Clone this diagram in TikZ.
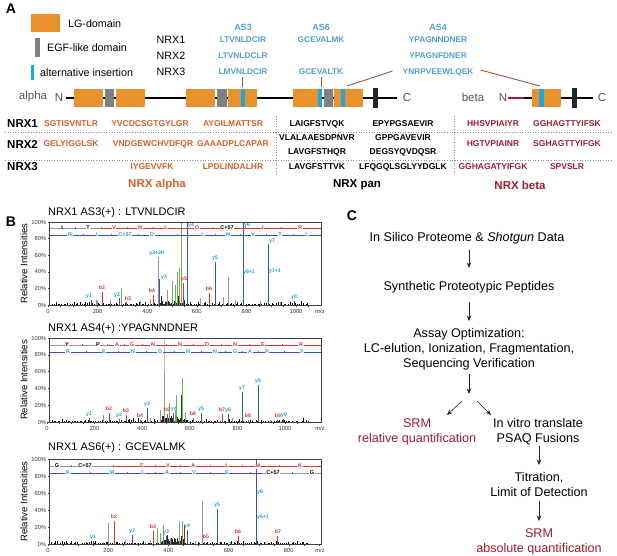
\documentclass[tikz,border=0pt]{standalone}
\usepackage{fontspec}
\setmainfont{Liberation Sans}
\usetikzlibrary{arrows.meta}
\definecolor{lgorange}{RGB}{232,146,46}
\definecolor{egfgray}{RGB}{128,128,128}
\definecolor{insblue}{RGB}{28,168,226}
\definecolor{pepblue}{RGB}{80,158,218}
\definecolor{alphared}{RGB}{214,96,44}
\definecolor{betared}{RGB}{160,30,50}
\definecolor{srmred}{RGB}{163,28,48}
\definecolor{brownln}{RGB}{150,88,60}
\definecolor{txtgray}{RGB}{85,85,85}
\definecolor{bion}{RGB}{215,55,50}
\definecolor{yion}{RGB}{55,85,175}
\definecolor{ylab}{RGB}{25,160,220}
\definecolor{pkgreen}{RGB}{110,175,80}
\definecolor{pkgray}{RGB}{150,150,150}
\newcommand\fsz[1]{\fontsize{#1}{#1}\selectfont}
% spectrum helpers
\newcommand\specaxes[5]{%
  \draw[black!75, line width=0.5pt] (49,#1) rectangle (321,#2);
  \foreach \v in {0,20,...,100}{
    \node[axlab, anchor=east] (yl#1-\v) at (46.5,{#2-(#2-#1)*(\v/100)}) {\v\%};
    \draw[black!75, line width=0.4pt] (49,{#2-(#2-#1)*(\v/100)}) -- (47.5,{#2-(#2-#1)*(\v/100)});
  }
  \foreach \m in {0,200,...,#5}{
    \node[axlab] (xl#1-\m) at ({#3+#4*(\m/200)},#2+6.5) {\m};
  }
  \foreach \m in {0,50,...,1050}{
    \pgfmathsetmacro\xx{#3+#4*(\m/200)}
    \ifdim\xx pt<321pt \draw[black!75, line width=0.4pt] (\xx,#2) -- (\xx,#2+1.5);\fi
  }
  \node[axlab] (mz#1) at (320,#2+6.5) {m/z};
  \node[rotate=90, font=\fsz{9.5}] (ri#1) at (24,{(#1+#2)/2}) {Relative Intensities};
}
\newcommand\peaks[3]{\foreach \x/\t in {#3} \draw[#1] (\x,#2) -- (\x,\t);}
\newcommand\plabs[2]{\foreach \x/\y/\s [count=\n] in {#2} \node[plab, text=#1] (pl\x-\n) at (\x,\y) {\s};}
\newcommand\noise[2]{%
  \pgfmathsetseed{#2}
  \foreach \i in {0,...,128}{
    \pgfmathsetmacro\xx{51+\i*2+rnd*1.5}
    \pgfmathsetmacro\hh{0.5+rnd*rnd*4}
    \draw[black, line width=0.35pt] (\xx,#1) -- (\xx,{#1-\hh});
  }
  \foreach \i in {0,...,40}{
    \pgfmathsetmacro\xx{160+\i*0.6}
    \pgfmathsetmacro\hh{1+rnd*rnd*9}
    \draw[black!85, line width=0.35pt] (\xx,#1) -- (\xx,{#1-\hh});
  }
}
\newcommand\seqrow[2]{%
  \foreach \xx/\ll/\cc [count=\n, remember=\xx as \px] in {#2}{
    \ifnum\n>1 \draw[black!55, line width=0.35pt] ({(\xx+\px)/2},#1-1.4) -- ({(\xx+\px)/2},#1+1.4);\fi
    \node[seql, text=\cc] (sq#1-\n) at (\xx,#1) {\ll};
  }
}
\begin{document}
\begin{tikzpicture}[x=1pt,y=-1pt,
  every node/.style={inner sep=0pt},
  panlab/.style={font=\fsz{14}\bfseries},
  legtxt/.style={font=\fsz{10.7}, anchor=west},
  nrxlab/.style={font=\fsz{10.7}},
  aspep/.style={font=\fsz{8.3}\bfseries, text=pepblue},
  aslab/.style={font=\fsz{9}\bfseries, text=pepblue},
  dtxt/.style={font=\fsz{11.5}, text=txtgray},
  rowlab/.style={font=\fsz{11.5}\bfseries, anchor=west},
  tpep/.style={font=\fsz{8.5}\bfseries},
  grp/.style={font=\fsz{11.5}\bfseries},
  sep/.style={dotted, black!45, line width=0.6pt},
  axlab/.style={font=\fsz{5.8}, text=black!80},
  plab/.style={font=\fsz{5.2}\bfseries},
  seql/.style={font=\fsz{5.5}\bfseries, fill=white, inner sep=0.6pt},
  stitle/.style={font=\fsz{11}, anchor=west},
  rowline/.style={line width=0.6pt},
  ctxt/.style={font=\fsz{12.6}, anchor=base},
  arr/.style={-{Stealth[length=5.5pt,width=4.5pt]}, line width=0.8pt, black!85},
]
\useasboundingbox (0,0) rectangle (617,555);

%================ Panel A =================
\node[panlab] (labA) at (11,9) {A};
% legend
\fill[lgorange] (31,14) rectangle (60,32);
\node[legtxt] (legLG) at (68,24) {LG-domain};
\fill[egfgray] (35,38) rectangle (40,57);
\node[legtxt] (legEGF) at (47,48) {EGF-like domain};
\fill[insblue] (31,65) rectangle (34,80);
\node[legtxt] (legIns) at (40,73) {alternative insertion};
% NRX names
\node[nrxlab] (n1) at (171,40) {NRX1};
\node[nrxlab] (n2) at (171,56) {NRX2};
\node[nrxlab] (n3) at (171,72) {NRX3};
% AS peptides
\node[aslab] (as3) at (243,27) {AS3};
\node[aspep] (as3a) at (243,40) {LTVNLDCIR};
\node[aspep] (as3b) at (243,56) {LTVNLDCLR};
\node[aspep] (as3c) at (243,72) {LMVNLDCIR};
\node[aslab] (as6) at (321,27) {AS6};
\node[aspep] (as6a) at (321,40) {GCEVALMK};
\node[aspep] (as6c) at (321,72) {GCEVALTK};
\node[aslab] (as4) at (438,27) {AS4};
\node[aspep] (as4a) at (438,40) {YPAGNNDNER};
\node[aspep] (as4b) at (438,56) {YPAGNFDNER};
\node[aspep] (as4c) at (438,72) {YNRPVEEWLQEK};
% alpha backbone
\node[dtxt] (alpha) at (33,97) {alpha};
\node[dtxt] (aN) at (59,98) {N};
\draw[line width=1.4pt] (66,98) -- (397,98);
\node[dtxt] (aC) at (407,98) {C};
\fill[lgorange] (74,89) rectangle (103,107);
\fill[egfgray] (105,89) rectangle (114,107);
\fill[lgorange] (116,89) rectangle (145,107);
\fill[lgorange] (186,89) rectangle (215,107);
\fill[egfgray] (217,89) rectangle (227,107);
\fill[lgorange] (228,89) rectangle (257,107);
\fill[insblue] (241,89) rectangle (245,107);
\fill[lgorange] (293,89) rectangle (318,107);
\fill[insblue] (318,89) rectangle (322,107);
\fill[egfgray] (324,89) rectangle (333,107);
\fill[lgorange] (334,89) rectangle (363,107);
\fill[insblue] (341,89) rectangle (345,107);
\fill[black!85] (373,88) rectangle (378,108);
% beta
\node[dtxt] (beta) at (473,97) {beta};
\node[dtxt] (bN) at (503,98) {N};
\draw[line width=1.4pt, betared] (508,98) -- (524,98);
\draw[line width=1.4pt] (524,98) -- (593,98);
\node[dtxt] (bC) at (602,98) {C};
\fill[lgorange] (532,89) rectangle (561,107);
\fill[insblue] (539,89) rectangle (544,107);
\fill[black!85] (572,88) rectangle (577,108);
% insertion marks
\coordinate (ins3) at (242,87);
\coordinate (ins6) at (321,87);
\coordinate (ins4a) at (347,86);
\coordinate (ins4b) at (540,86);
\draw[brownln, line width=0.8pt] (ins3) -- ++(0,-10);
\draw[brownln, line width=0.8pt] (ins6) -- ++(0,-10);
\draw[brownln, line width=0.9pt] ([xshift=-10pt,yshift=1pt]as4c.west) -- (ins4a);
\draw[brownln, line width=0.9pt] ([xshift=7pt,yshift=2pt]as4c.east) -- (ins4b);

% table
\draw[sep] (5,132) -- (612,132);
\draw[sep] (5,160) -- (612,160);
\draw[sep] (276,116) -- (276,175);
\draw[sep] (454,116) -- (454,175);
\node[rowlab] (r1) at (7,124) {NRX1};
\node[rowlab] (r2) at (7,144) {NRX2};
\node[rowlab] (r3) at (7,167) {NRX3};
\begin{scope}[every node/.append style={tpep, text=alphared}]
\node (p11) at (71,124) {SGTISVNTLR};
\node (p12) at (150,124) {YVCDCSGTGYLGR};
\node (p13) at (233,124) {AYGILMATTSR};
\node (p21) at (71,144) {GELYIGGLSK};
\node (p22) at (153,144) {VNDGEWCHVDFQR};
\node (p23) at (233,144) {GAAADPLCAPAR};
\node (p32) at (152,167) {IYGEVVFK};
\node (p33) at (233,167) {LPDLINDALHR};
\end{scope}
\begin{scope}[every node/.append style={tpep, text=black}]
\node (q11) at (317,124) {LAIGFSTVQK};
\node (q12) at (403,124) {EPYPGSAEVIR};
\node (q21) at (317,138) {VLALAAESDPNVR};
\node (q22) at (317,152) {LAVGFSTHQR};
\node (q23) at (403,138) {GPPGAVEVIR};
\node (q24) at (403,152) {DEGSYQVDQSR};
\node (q31) at (317,167) {LAVGFSTTVK};
\node (q32) at (403,167) {LFQGQLSGLYYDGLK};
\end{scope}
\begin{scope}[every node/.append style={tpep, text=betared}]
\node (b11) at (493,124) {HHSVPIAIYR};
\node (b12) at (567,124) {GGHAGTTYIFSK};
\node (b21) at (493,144) {HGTVPIAINR};
\node (b22) at (567,144) {SGHAGTTYIFGK};
\node (b31) at (493,167) {GGHAGATYIFGK};
\node (b32) at (567,167) {SPVSLR};
\end{scope}
\node[grp, text=alphared] (galpha) at (157,185) {NRX alpha};
\node[grp] (gpan) at (357,185) {NRX pan};
\node[grp, text=betared] (gbeta) at (520,185) {NRX beta};

%================ Panel B =================
\node[panlab] (labB) at (11,222) {B};
% ---- spectrum 1
\node[stitle] (t1) at (48,213) {NRX1 AS3(+) : LTVNLDCIR};
\noise{305}{7}
\peaks{pkgray, line width=0.6pt}{305}{158/257,228/277,150/299,167/290,172/281,140/301,200/298,235/300,260/301,280/302,110/300,97/301,223/297}
\peaks{pkgreen, line width=0.6pt}{305}{96/300,121/288,177/272,179/268,175/285,181/222}
\peaks{bion, line width=0.8pt}{305}{102/292,126/302,153/295,183/283,209/293}
\peaks{yion, line width=0.8pt}{305}{91/300,119/298,159/279,187/222,215/262,243/222,268/244,294/301}
\draw[rowline, pkgray] (49,228) -- (101,228);
\draw[rowline, bion] (101,228) -- (321,228);
\draw[rowline, yion] (49,235) -- (321,235);
\seqrow{228}{63/L/black,88/T/black,114/V/bion,140/N/bion,166/L/bion,197/D/bion,227/C+57/black,263/I/bion,300/R/bion}
\seqrow{235}{70/R/ylab,97/I/ylab,125/C+57/ylab,152/D/ylab,203/L/ylab,228/N/ylab,253/V/ylab,280/T/ylab,307/L/ylab}
\plabs{ylab}{89/296/y1,117/295/y2,157/253/y3+2H,164/277/y3,191/225/y4,215/258/y5,247/225/y6,249/272/y6+1,272/241/y7,275/271/y7+1,294/297/y8}
\plabs{bion}{102/288/b2,128/299/b3,152/291/b4,184/279/b5,209/289/b6}
\specaxes{222}{305}{48}{49.6}{1000}
% ---- spectrum 2
\node[stitle] (t2) at (48,329) {NRX1 AS4(+) :YPAGNNDNER};
\noise{422}{11}
\draw[pkgray!60, line width=0.5pt] (164,422) -- (164,338);
\peaks{pkgray, line width=0.6pt}{422}{164/373,103/415,160/410,175/410,185/412,232/418,270/420,150/418}
\peaks{pkgreen, line width=0.6pt}{422}{169/403,182/378,176/395}
\peaks{green!40!black, line width=0.6pt}{422}{181/395}
\peaks{bion, line width=0.8pt}{422}{109/413,126/415,140/420,167/414,193/418,222/414,248/420,277/420}
\peaks{yion, line width=0.8pt}{422}{89/418,119/419,147/408,173/413,201/413,228/414,242/392,258/385,283/419}
\draw[rowline, pkgray] (49,345) -- (108,345);
\draw[rowline, bion] (108,345) -- (321,345);
\draw[rowline, yion] (49,352) -- (321,352);
\seqrow{345}{67/Y/black,98/P/black,117/A/bion,132/G/bion,153/N/bion,180/N/bion,207/D/bion,235/N/bion,263/E/bion,301/R/bion}
\seqrow{352}{68/R/ylab,104/E/ylab,133/N/ylab,160/D/ylab,188/N/ylab,215/N/ylab,235/G/ylab,250/A/ylab,267/P/ylab,302/Y/ylab}
\plabs{ylab}{89/414/y1,119/415/y2,147/404/y3,174/409/y4,201/409/y5,228/410/y6,242/388/y7,258/381/y8,284/415/y9}
\plabs{bion}{109/409/b2,126/411/b3,140/416/b4,167/410/b5,193/414/b6,222/410/b7,248/416/b8,278/416/b9}
\specaxes{338}{422}{47}{47.6}{1000}
% ---- spectrum 3
\node[stitle] (t3) at (48,448) {NRX1 AS6(+) : GCEVALMK};
\noise{544}{23}
\peaks{pkgray, line width=0.6pt}{544}{103/542,108/523,125/540,137/543,145/542,163/525,170/538,179/521,202/501,150/540,195/541,230/542,265/542}
\peaks{pkgreen, line width=0.6pt}{544}{160/533,182/521,157/528}
\peaks{bion!70!black, line width=0.6pt}{544}{184/525}
\peaks{bion, line width=0.8pt}{544}{114/521,153/531,204/542,238/536,277/536}
\peaks{yion, line width=0.8pt}{544}{93/541,132/535,166/536,187/530,217/509,256/459}
\draw[rowline, pkgray] (49,466) -- (115,466);
\draw[rowline, bion] (115,466) -- (321,466);
\draw[rowline, yion] (49,473) -- (262,473);
\draw[rowline, pkgray] (262,473) -- (321,473);
\seqrow{466}{57/G/black,85/C+57/black,142/E/bion,168/V/bion,193/A/bion,227/L/bion,258/M/bion,300/K/bion}
\seqrow{473}{68/K/ylab,112/M/ylab,143/L/ylab,167/A/ylab,194/V/ylab,227/E/ylab,273/C+57/black,312/G/black}
\plabs{ylab}{93/537/y1,132/531/y2,166/532/y3,187/526/y4,217/505/y5,260/492/y6,263/517/y6+1}
\plabs{bion}{114/517/b2,153/527/b3,206/537/b5,238/532/b6,278/532/b7}
\specaxes{459}{544}{48}{60.2}{800}

%================ Panel C =================
\node[panlab] (labC) at (352,216) {C};
\node[ctxt] (c1) at (467,241.5) {In Silico Proteome \& \textit{Shotgun} Data};
\node[ctxt] (c2) at (469,290.5) {Synthetic Proteotypic Peptides};
\node[ctxt] (c3a) at (469,337.5) {Assay Optimization:};
\node[ctxt] (c3b) at (469,352.5) {LC-elution, Ionization, Fragmentation,};
\node[ctxt] (c3c) at (469,367.5) {Sequencing Verification};
\node[ctxt, text=srmred] (c4a) at (417,427.5) {SRM};
\node[ctxt, text=srmred] (c4b) at (417,442.5) {relative quantification};
\node[ctxt] (c5a) at (538,427.5) {In vitro translate};
\node[ctxt] (c5b) at (538,442.5) {PSAQ Fusions};
\node[ctxt] (c6a) at (539,481.5) {Titration,};
\node[ctxt] (c6b) at (539,496.5) {Limit of Detection};
\node[ctxt, text=srmred] (c7a) at (539,537.5) {SRM};
\node[ctxt, text=srmred] (c7b) at (539,552.5) {absolute quantification};
\coordinate (split) at (469,394);
\coordinate (sL) at (462,401);
\coordinate (eL) at (447,415);
\coordinate (sR) at (477,401);
\coordinate (eR) at (491,415);
\draw[arr] ([xshift=2pt,yshift=-8.5pt]c1.base) -- ([yshift=22.5pt]c2.base);
\draw[arr] ([yshift=-11.5pt]c2.base) -- ([yshift=16.5pt]c3a.base);
\draw[arr] ([yshift=-6.5pt]c3c.base) -- (split);
\draw[arr, line width=0.6pt] (sL) -- (eL);
\draw[arr, line width=0.6pt] (sR) -- (eR);
\draw[arr] ([xshift=1pt,yshift=-3.5pt]c5b.base) -- ([yshift=16.5pt]c6a.base);
\draw[arr] ([yshift=-4pt]c6b.base) -- ([yshift=16.5pt]c7a.base);
\end{tikzpicture}
\end{document}
